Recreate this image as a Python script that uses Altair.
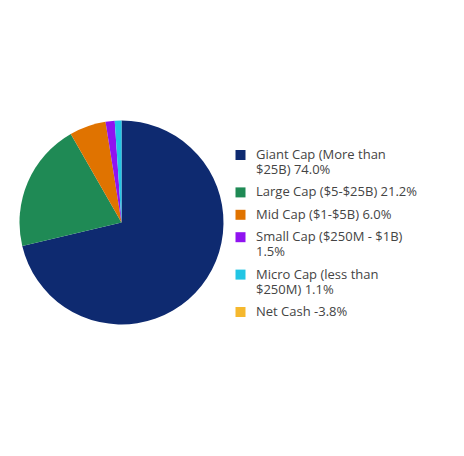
import altair as alt
import pandas as pd

labels = [
    "Giant Cap (More than\n$25B) 74.0%",
    "Large Cap ($5-$25B) 21.2%",
    "Mid Cap ($1-$5B) 6.0%",
    "Small Cap ($250M - $1B)\n1.5%",
    "Micro Cap (less than\n$250M) 1.1%",
    "Net Cash -3.8%",
]
values = [74.0, 21.2, 6.0, 1.5, 1.1, -3.8]
colors = ["#0E2A70", "#1F8A55", "#E07300", "#9013F0", "#22C5E4", "#F5B82E"]

df = pd.DataFrame({"label": labels, "value": values, "order": list(range(len(labels)))})

chart = (
    alt.Chart(df)
    .transform_calculate(pos="max(datum.value, 0)")
    .mark_arc(outerRadius=102, strokeWidth=0)
    .encode(
        theta=alt.Theta("pos:Q", stack=True),
        order=alt.Order("order:Q"),
        color=alt.Color(
            "label:N",
            scale=alt.Scale(domain=labels, range=colors),
            legend=alt.Legend(
                title=None,
                orient="none",
                legendX=226,
                legendY=140.5,
                symbolType="square",
                symbolSize=100,
                symbolOpacity=1,
                symbolStrokeWidth=0,
                labelFont="Open Sans",
                labelFontSize=13,
                labelColor="#444444",
                labelOffset=9,
                labelLimit=300,
                rowPadding=8.4,
                labelExpr="split(datum.label, '\\n')",
            ),
        ),
        x=alt.value(113.5),
        y=alt.value(214.5),
    )
    .properties(
        width=448,
        height=440,
        padding=0,
        autosize=alt.AutoSizeParams(type="none"),
    )
    .configure_view(stroke=None)
)

chart.save("out.html", embed_options={"renderer": "svg", "actions": False})
